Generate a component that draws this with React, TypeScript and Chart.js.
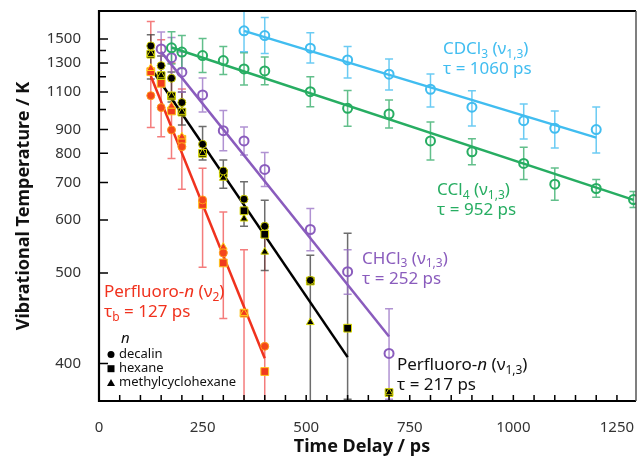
import React, { useEffect, useRef } from "react";
import { Chart, registerables } from "chart.js";

Chart.register(...registerables);

const FONT = '"Noto Sans", "DejaVu Sans", sans-serif';
const AMBIENT_T = 300; // K — the axis is log(T − T0)

// ---- axes ----
const xTickLabels = [0, 250, 500, 750, 1000, 1250];
const xMinorTicks = [50, 100, 150, 200, 300, 350, 400, 450, 550, 600, 650, 700, 800, 850, 900, 950, 1050, 1100, 1150, 1200];
const xMin = 0;
const xMax = 1296;
const yTickLabels = [400, 500, 600, 700, 800, 900, 1100, 1300, 1500];
const yMinorTicks = [1000, 1200, 1400];
const yMin = 375;
const yMax = 1788;

// ---- CDCl3 (ν1,3) ----
const cdcl3Times = [350, 400, 510, 600, 700, 800, 900, 1025, 1100, 1200];
const cdcl3Temp = [1578, 1533, 1419, 1323, 1217, 1117, 1012, 942, 906, 900];
const cdcl3Hi = [1802, 1716, 1559, 1433, 1331, 1219, 1107, 1030, 992, 1013];
const cdcl3Lo = [1388, 1374, 1300, 1191, 1113, 1013, 917, 858, 821, 801];
const cdcl3FitTimes = [350, 1200];
const cdcl3Fit = [1578, 864];

// ---- CCl4 (ν1,3) ----
const ccl4Times = [175, 200, 250, 300, 350, 400, 510, 600, 700, 800, 900, 1025, 1100, 1200, 1290];
const ccl4Temp = [1422, 1386, 1358, 1318, 1255, 1240, 1102, 1006, 976, 850, 806, 763, 695, 682, 651];
const ccl4Hi = [1569, 1533, 1505, 1433, 1380, 1346, 1200, 1110, 1052, 936, 859, 824, 747, 709, 673];
const ccl4Lo = [1292, 1257, 1229, 1215, 1144, 1145, 1015, 915, 907, 775, 758, 709, 649, 657, 630];
const ccl4FitTimes = [175, 1290];
const ccl4Fit = [1425, 650];

// ---- CHCl3 (ν1,3) ----
const chcl3Times = [150, 175, 200, 250, 300, 350, 400, 510, 600, 700];
const chcl3Temp = [1413, 1341, 1231, 1082, 895, 850, 742, 579, 502, 408];
const chcl3Hi = [1568, 1514, 1386, 1191, 994, 912, 803, 628, 539, 452];
const chcl3Lo = [1277, 1193, 1098, 987, 810, 794, 688, 537, 470, 376];
const chcl3FitTimes = [150, 700];
const chcl3Fit = [1388, 423];

// ---- Perfluoro-n (ν1,3) ----
const pf13DecalinTimes = [125, 150, 175, 200, 250, 300, 350, 400, 510];
const pf13Decalin = [1439, 1279, 1189, 1038, 836, 737, 652, 586, 489];
const pf13HexaneTimes = [125, 150, 175, 200, 250, 300, 350, 400, 510, 600, 700];
const pf13Hexane = [1369, 1207, 1076, 986, 800, 729, 622, 569, 488, 431, 380];
const pf13McTimes = [125, 150, 175, 200, 250, 300, 350, 400, 510, 700];
const pf13Mc = [1369, 1207, 1076, 986, 800, 714, 603, 535, 437, 380];
const pf13ErrTimes = [125, 150, 175, 200, 250, 300, 350, 400, 510, 600];
const pf13Hi = [1540, 1355, 1233, 1100, 914, 775, 702, 649, 529, 571];
const pf13Lo = [1184, 1138, 1041, 921, 775, 683, 586, 504, 330, 376];
const pf13FitTimes = [125, 600];
const pf13Fit = [1262, 405];

// ---- Perfluoro-n (ν2) ----
const pf2DecalinTimes = [125, 150, 175, 200, 250, 300, 400];
const pf2Decalin = [1078, 1010, 898, 826, 650, 533, 414];
const pf2HexaneTimes = [125, 150, 175, 200, 250, 300, 350, 400];
const pf2Hexane = [1235, 1155, 992, 857, 638, 516, 447, 394];
const pf2McTimes = [125, 150, 175, 200, 250, 300, 350];
const pf2Mc = [1260, 1200, 1019, 868, 649, 544, 447];
const pf2ErrTimes = [125, 150, 175, 200, 250, 300, 350, 400];
const pf2Hi = [1673, 1493, 1300, 1119, 746, 619, 539, 563];
const pf2Lo = [909, 868, 781, 680, 509, 441, 330, 330];
const pf2FitTimes = [125, 400];
const pf2Fit = [1205, 404];

// ---- colours ----
const CYAN = "#41bdf0";
const GREEN = "#27ad62";
const PURPLE = "#8a5cbd";
const RED = "#f0321e";
const BLACK = "#000000";

const errorGroups = [
  { times: pf2ErrTimes, hi: pf2Hi, lo: pf2Lo, color: "rgba(240,80,80,0.75)" },
  { times: pf13ErrTimes, hi: pf13Hi, lo: pf13Lo, color: "rgba(60,60,60,0.75)" },
  { times: chcl3Times, hi: chcl3Hi, lo: chcl3Lo, color: "rgba(150,110,195,0.75)" },
  { times: ccl4Times, hi: ccl4Hi, lo: ccl4Lo, color: "rgba(45,170,100,0.75)" },
  { times: cdcl3Times, hi: cdcl3Hi, lo: cdcl3Lo, color: "rgba(70,190,240,0.8)" },
];

type Seg = { t: string; s?: "sub" | "it" };
const annotations: { t: number; T: number; color: string; lines: Seg[][] }[] = [
  {
    t: 830, T: 1372, color: CYAN,
    lines: [
      [{ t: "CDCl" }, { t: "3", s: "sub" }, { t: " (ν" }, { t: "1,3", s: "sub" }, { t: ")" }],
      [{ t: "τ = 1060 ps" }],
    ],
  },
  {
    t: 816, T: 663, color: GREEN,
    lines: [
      [{ t: "CCl" }, { t: "4", s: "sub" }, { t: " (ν" }, { t: "1,3", s: "sub" }, { t: ")" }],
      [{ t: "τ = 952 ps" }],
    ],
  },
  {
    t: 635, T: 515, color: PURPLE,
    lines: [
      [{ t: "CHCl" }, { t: "3", s: "sub" }, { t: " (ν" }, { t: "1,3", s: "sub" }, { t: ")" }],
      [{ t: "τ = 252 ps" }],
    ],
  },
  {
    t: 719, T: 395, color: "#111111",
    lines: [
      [{ t: "Perfluoro-" }, { t: "n", s: "it" }, { t: " (ν" }, { t: "1,3", s: "sub" }, { t: ")" }],
      [{ t: "τ = 217 ps" }],
    ],
  },
  {
    t: 12, T: 466, color: RED,
    lines: [
      [{ t: "Perfluoro-" }, { t: "n", s: "it" }, { t: " (ν" }, { t: "2", s: "sub" }, { t: ")" }],
      [{ t: "τ" }, { t: "b", s: "sub" }, { t: " = 127 ps" }],
    ],
  },
];

const legendItems = [
  { label: "decalin", style: "circle" },
  { label: "hexane", style: "rect" },
  { label: "methylcyclohexane", style: "triangle" },
];

const pts = (times: number[], temps: number[]) =>
  times.map((t, i) => ({ x: t, y: temps[i] - AMBIENT_T }));

function drawRich(ctx: CanvasRenderingContext2D, x: number, y: number, segs: Seg[], size: number, color: string) {
  let cx = x;
  ctx.fillStyle = color;
  ctx.textAlign = "left";
  ctx.textBaseline = "alphabetic";
  for (const seg of segs) {
    const sub = seg.s === "sub";
    const it = seg.s === "it";
    const fs = sub ? Math.round(size * 0.68) : size;
    ctx.font = `${it ? "italic " : ""}${fs}px ${FONT}`;
    ctx.fillText(seg.t, cx, y + (sub ? size * 0.22 : 0));
    cx += ctx.measureText(seg.t).width;
  }
}

function drawMarker(ctx: CanvasRenderingContext2D, style: string, x: number, y: number) {
  ctx.fillStyle = "#000";
  ctx.beginPath();
  if (style === "circle") ctx.arc(x, y, 3.5, 0, Math.PI * 2);
  else if (style === "rect") ctx.rect(x - 3.5, y - 3.5, 7, 7);
  else {
    ctx.moveTo(x, y - 4);
    ctx.lineTo(x + 4, y + 3);
    ctx.lineTo(x - 4, y + 3);
    ctx.closePath();
  }
  ctx.fill();
}

const zeroPad = (s: any) => {
  s.paddingTop = 0;
  s.paddingBottom = 0;
  s.paddingLeft = 0;
  s.paddingRight = 0;
};

const overlayPlugin = {
  id: "overlay",
  beforeDatasetsDraw(chart: any) {
    const { ctx, chartArea: a, scales } = chart;
    const xs = scales.x;
    const ys = scales.y;
    ctx.save();
    ctx.beginPath();
    ctx.rect(a.left, a.top, a.right - a.left, a.bottom - a.top);
    ctx.clip();
    for (const g of errorGroups) {
      ctx.strokeStyle = g.color;
      ctx.lineWidth = 1.5;
      g.times.forEach((t: number, i: number) => {
        const px = xs.getPixelForValue(t);
        const p1 = ys.getPixelForValue(g.hi[i] - AMBIENT_T);
        const p2 = ys.getPixelForValue(Math.max(g.lo[i] - AMBIENT_T, 1));
        ctx.beginPath();
        ctx.moveTo(px, p1);
        ctx.lineTo(px, p2);
        ctx.moveTo(px - 4, p1);
        ctx.lineTo(px + 4, p1);
        ctx.moveTo(px - 4, p2);
        ctx.lineTo(px + 4, p2);
        ctx.stroke();
      });
    }
    ctx.restore();
  },
  afterDatasetsDraw(chart: any) {
    const { ctx, chartArea: a, scales } = chart;
    const xs = scales.x;
    const ys = scales.y;
    ctx.save();
    for (const an of annotations) {
      const x = xs.getPixelForValue(an.t);
      const y = ys.getPixelForValue(an.T - AMBIENT_T);
      an.lines.forEach((line, i) => drawRich(ctx, x, y + i * 20, line, 17, an.color));
    }
    // solvent legend
    ctx.fillStyle = "#111";
    ctx.font = `italic 15px ${FONT}`;
    ctx.textAlign = "left";
    ctx.textBaseline = "alphabetic";
    ctx.fillText("n", a.left + 22, a.bottom - 58);
    legendItems.forEach((it, i) => {
      const by = a.bottom - 43 + i * 14.2;
      drawMarker(ctx, it.style, a.left + 12, by - 3.5);
      ctx.fillStyle = "#111";
      ctx.font = `13px ${FONT}`;
      ctx.fillText(it.label, a.left + 20, by);
    });
    ctx.restore();
  },
  afterDraw(chart: any) {
    const { ctx, chartArea: a, scales } = chart;
    const xs = scales.x;
    const ys = scales.y;
    ctx.save();
    // inward ticks
    ctx.strokeStyle = "#000";
    ctx.lineWidth = 1.5;
    ctx.beginPath();
    for (const v of yTickLabels) {
      const py = ys.getPixelForValue(v - AMBIENT_T);
      ctx.moveTo(a.left, py);
      ctx.lineTo(a.left + 9, py);
    }
    for (const v of yMinorTicks) {
      const py = ys.getPixelForValue(v - AMBIENT_T);
      ctx.moveTo(a.left, py);
      ctx.lineTo(a.left + 7, py);
    }
    for (const v of [...xTickLabels, ...xMinorTicks]) {
      const px = xs.getPixelForValue(v);
      ctx.moveTo(px, a.bottom);
      ctx.lineTo(px, a.bottom - 6);
    }
    ctx.stroke();
    // frame
    ctx.lineWidth = 2.2;
    ctx.strokeStyle = "#000";
    ctx.beginPath();
    ctx.moveTo(a.right, a.top);
    ctx.lineTo(a.left, a.top);
    ctx.lineTo(a.left, a.bottom);
    ctx.lineTo(a.right, a.bottom);
    ctx.stroke();
    ctx.lineWidth = 1.5;
    ctx.strokeStyle = "#555";
    ctx.beginPath();
    ctx.moveTo(a.right, a.top);
    ctx.lineTo(a.right, a.bottom);
    ctx.stroke();
    // axis titles
    ctx.fillStyle = "#111";
    ctx.font = `bold 18px ${FONT}`;
    ctx.textAlign = "center";
    ctx.textBaseline = "middle";
    ctx.fillText("Time Delay / ps", 362, 447);
    ctx.translate(24, (a.top + a.bottom) / 2);
    ctx.rotate(-Math.PI / 2);
    ctx.fillText("Vibrational Temperature / K", 0, 0);
    ctx.restore();
  },
};

export default function App() {
  const ref = useRef<HTMLCanvasElement | null>(null);

  useEffect(() => {
    if (!ref.current) return;
    const openCircle = (color: string) => ({
      pointStyle: "circle" as const,
      pointRadius: 4.5,
      pointBorderWidth: 2,
      pointBorderColor: color,
      pointBackgroundColor: "rgba(255,255,255,0)",
    });
    const filled = (style: string, r: number, bg: string, border: string) => ({
      pointStyle: style as any,
      pointRadius: r,
      pointBorderWidth: 1,
      pointBorderColor: border,
      pointBackgroundColor: bg,
    });
    const fit = (times: number[], vals: number[], color: string) => ({
      data: pts(times, vals),
      showLine: true,
      borderColor: color,
      borderWidth: 2.5,
      pointRadius: 0,
      order: 1,
    });
    const chart = new Chart(ref.current, {
      type: "scatter",
      data: {
        datasets: [
          { data: pts(cdcl3Times, cdcl3Temp), ...openCircle(CYAN) },
          { data: pts(ccl4Times, ccl4Temp), ...openCircle(GREEN) },
          { data: pts(chcl3Times, chcl3Temp), ...openCircle(PURPLE) },
          { data: pts(pf13DecalinTimes, pf13Decalin), ...filled("circle", 4, "#000", "#c8c800") },
          { data: pts(pf13McTimes, pf13Mc), ...filled("triangle", 4.5, "#000", "#d8d800") },
          { data: pts(pf13HexaneTimes, pf13Hexane), ...filled("rect", 5.5, "#000", "#d8d800") },
          { data: pts(pf2DecalinTimes, pf2Decalin), ...filled("circle", 4, "#f4471c", "#ff9a1a") },
          { data: pts(pf2McTimes, pf2Mc), ...filled("triangle", 4.5, "#f03a1e", "#ffd21a") },
          { data: pts(pf2HexaneTimes, pf2Hexane), ...filled("rect", 5.5, "#f03a1e", "#ffc21a") },
          fit(cdcl3FitTimes, cdcl3Fit, CYAN),
          fit(ccl4FitTimes, ccl4Fit, GREEN),
          fit(chcl3FitTimes, chcl3Fit, PURPLE),
          fit(pf13FitTimes, pf13Fit, BLACK),
          fit(pf2FitTimes, pf2Fit, RED),
        ] as any,
      },
      options: {
        animation: false,
        responsive: false,
        devicePixelRatio: 1,
        layout: { autoPadding: false, padding: { left: 0, top: 11, right: 1, bottom: 0 } },
        plugins: { legend: { display: false }, tooltip: { enabled: false } },
        scales: {
          x: {
            type: "linear",
            bounds: "data",
            min: xMin,
            max: xMax,
            afterBuildTicks: (s: any) => {
              s.ticks = xTickLabels.map((v) => ({ value: v }));
            },
            afterFit: (s: any) => {
              s.height = 61;
              zeroPad(s);
            },
            grid: { display: false, drawTicks: false },
            border: { display: false },
            ticks: {
              autoSkip: false,
              maxRotation: 0,
              padding: 18,
              color: "#333",
              font: { family: FONT, size: 15 },
              callback: (v: any) => String(v),
            },
          },
          y: {
            type: "logarithmic",
            bounds: "data",
            min: yMin - AMBIENT_T,
            max: yMax - AMBIENT_T,
            afterBuildTicks: (s: any) => {
              s.ticks = yTickLabels.map((v) => ({ value: v - AMBIENT_T }));
            },
            afterFit: (s: any) => {
              s.width = 99;
              zeroPad(s);
            },
            grid: { display: false, drawTicks: false },
            border: { display: false },
            ticks: {
              autoSkip: false,
              padding: 18,
              color: "#333",
              font: { family: FONT, size: 15 },
              callback: (v: any) => String(Math.round(Number(v) + AMBIENT_T)),
            },
          },
        },
      },
      plugins: [overlayPlugin],
    } as any);
    return () => chart.destroy();
  }, []);

  return (
    <div style={{ position: "absolute", left: 0, top: 0, width: 637, height: 462, background: "#fff" }}>
      <canvas ref={ref} width={637} height={462} style={{ width: 637, height: 462, display: "block" }} />
    </div>
  );
}
